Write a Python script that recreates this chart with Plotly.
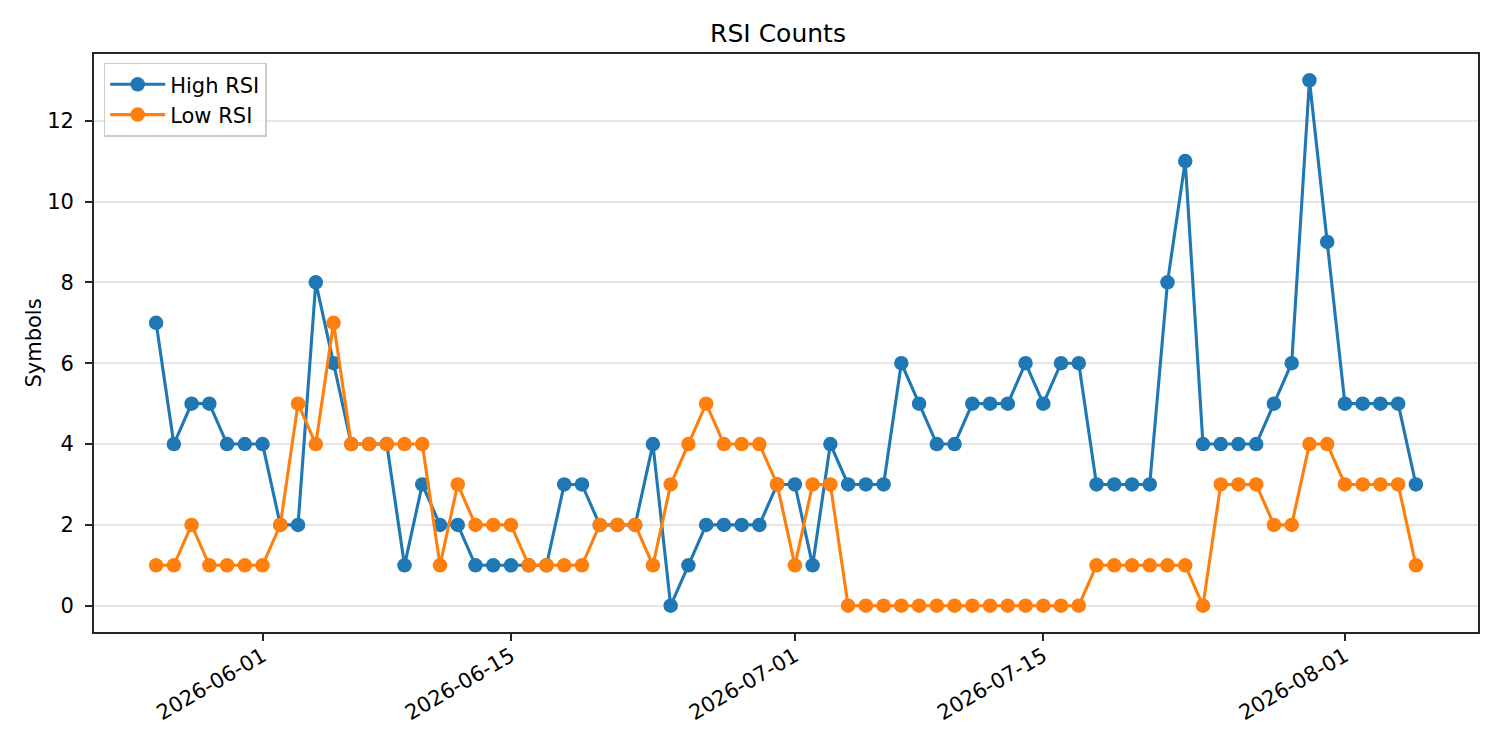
import pandas as pd
import plotly.graph_objects as go

# ------------------------------------------
# data (daily counts)
# ------------------------------------------
dates = pd.date_range("2026-05-26", "2026-08-05", freq="D")

high_rsi = [7, 4, 5, 5, 4, 4,                      # May 26-31
            4, 2, 2, 8, 6, 4, 4, 4, 1, 3, 2, 2, 1, 1, 1,
            1, 1, 3, 3, 2, 2, 2, 4, 0, 1, 2, 2, 2, 2, 3,   # June
            3, 1, 4, 3, 3, 3, 6, 5, 4, 4, 5, 5, 5, 6, 5,
            6, 6, 3, 3, 3, 3, 8, 11, 4, 4, 4, 4, 5, 6, 13, 9,  # July
            5, 5, 5, 5, 3]                         # Aug 1-5

low_rsi = [1, 1, 2, 1, 1, 1,
           1, 2, 5, 4, 7, 4, 4, 4, 4, 4, 1, 3, 2, 2, 2,
           1, 1, 1, 1, 2, 2, 2, 1, 3, 4, 5, 4, 4, 4, 3,
           1, 3, 3, 0, 0, 0, 0, 0, 0, 0, 0, 0, 0, 0, 0,
           0, 0, 1, 1, 1, 1, 1, 1, 0, 3, 3, 3, 2, 2, 4, 4,
           3, 3, 3, 3, 1]

tick_dates = ["2026-06-01", "2026-06-15", "2026-07-01", "2026-07-15", "2026-08-01"]

# ------------------------------------------
# figure
# ------------------------------------------
FONT = "DejaVu Sans"
AX = "#262626"

fig = go.Figure()
fig.add_trace(go.Scatter(
    x=dates, y=high_rsi, mode="lines+markers", name="High RSI",
    line=dict(color="#1f77b4", width=3.1),
    marker=dict(size=14.5, color="#1f77b4"),
))
fig.add_trace(go.Scatter(
    x=dates, y=low_rsi, mode="lines+markers", name="Low RSI",
    line=dict(color="#ff7f0e", width=3.1),
    marker=dict(size=14.5, color="#ff7f0e"),
))

# page body has an 8px margin, so shift the margins to compensate
fig.update_layout(
    width=1500,
    height=750,
    margin=dict(l=86, r=30, t=46, b=126),
    paper_bgcolor="white",
    plot_bgcolor="white",
    font=dict(family=FONT, size=21, color="black"),
    title=dict(
        text="RSI Counts",
        x=(778 - 8) / 1500, xanchor="center",
        y=1 - 25 / 750, yanchor="middle",
        font=dict(family=FONT, size=25, color="black"),
    ),
    legend=dict(
        x=0.007, y=0.985, xanchor="left", yanchor="top",
        bgcolor="rgba(255,255,255,0.8)",
        bordercolor="#cccccc", borderwidth=1.5,
        itemwidth=55,
        font=dict(family=FONT, size=21, color="black"),
    ),
    showlegend=True,
)

fig.update_xaxes(
    range=["2026-05-22 12:00", "2026-08-08 12:00"],
    tickvals=tick_dates,
    tickformat="%Y-%m-%d",
    tickangle=-30,
    ticks="outside", ticklen=7, tickwidth=1.7, tickcolor=AX,
    ticklabelstandoff=-5,
    showline=True, linecolor=AX, linewidth=1.7, mirror=True,
    showgrid=False, zeroline=False,
)
fig.update_yaxes(
    range=[-0.65, 13.65],
    tickvals=[0, 2, 4, 6, 8, 10, 12],
    ticks="outside", ticklen=7, tickwidth=1.7, tickcolor=AX,
    ticklabelstandoff=7,
    showline=True, linecolor=AX, linewidth=1.7, mirror=True,
    showgrid=True, gridcolor="#e6e6e6", gridwidth=1.5,
    zeroline=False,
    title=dict(text="Symbols", standoff=0, font=dict(family=FONT, size=21)),
)

fig.write_html("out.html")
